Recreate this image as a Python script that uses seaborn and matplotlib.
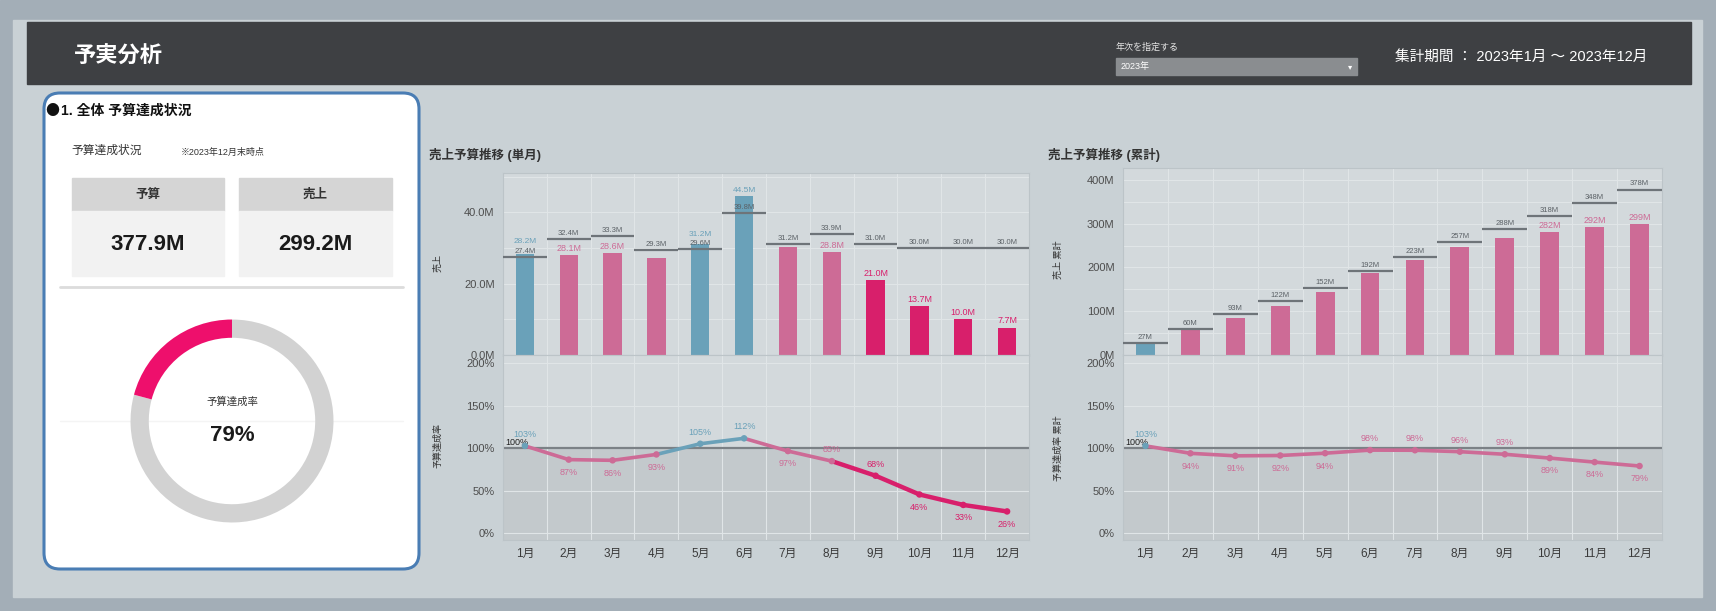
import numpy as np
import matplotlib
matplotlib.use("Agg")
import matplotlib.pyplot as plt
from matplotlib.patches import Rectangle, FancyBboxPatch
import seaborn as sns

# ---- data -------------------------------------------------------------
months = ["1月", "2月", "3月", "4月", "5月", "6月",
          "7月", "8月", "9月", "10月", "11月", "12月"]
budget_m = [27.4, 32.4, 33.3, 29.3, 29.6, 39.8, 31.2, 33.9, 31.0, 30.0, 30.0, 30.0]
sales_m = [28.2, 28.1, 28.6, 27.2, 31.2, 44.5, 30.2, 28.8, 21.0, 13.7, 10.0, 7.7]

ticks_single = [0, 20, 40]
ticks_cum = [0, 100, 200, 300, 400]
ticks_pct = [0, 50, 100, 150, 200]

# where each achievement-rate label sits relative to its point
label_side_single = ["up", "down", "down", "down", "up", "up",
                     "down", "up", "up", "down", "down", "down"]
label_side_cum = ["up", "down", "down", "down", "down", "up",
                  "up", "up", "up", "down", "down", "down"]

# ---- derived series -----------------------------------------------------
budget_m = np.array(budget_m)
sales_m = np.array(sales_m)
budget_c = np.cumsum(budget_m)
sales_c = np.cumsum(sales_m)
rate_m = sales_m / budget_m * 100
rate_c = sales_c / budget_c * 100
total_budget = budget_m.sum()
total_sales = sales_m.sum()
total_rate = total_sales / total_budget * 100

# ---- style --------------------------------------------------------------
sns.set_theme(style="white")
plt.rcParams["font.family"] = ["Liberation Sans", "Noto Sans CJK JP", "DejaVu Sans"]

OUTER = "#a3aeb7"
PANEL = "#c9d1d5"
HEADER = "#3e4043"
PLOT = "#d3d9dc"
SHADE = "#c3c9cc"
GRID = "#e0e5e7"
BUDGET = "#6e7479"
BLUE = "#6aa1b9"
MUTED = "#cd6b96"
STRONG = "#d81f6b"
DONUT_GREY = "#d2d2d2"
DONUT_PINK = "#ee0f6c"
TXT = "#333333"


def status_color(r):
    if r >= 100:
        return BLUE
    return MUTED if r >= 75 else STRONG


W, H = 1716, 611
fig = plt.figure(figsize=(W / 100, H / 100), dpi=100)


def px_axes(x0, y0, x1, y1):
    return fig.add_axes([x0 / W, 1 - y1 / H, (x1 - x0) / W, (y1 - y0) / H])


# ---- page background, header, summary card ------------------------------
bg = px_axes(0, 0, W, H)
bg.set_xlim(0, W)
bg.set_ylim(H, 0)
bg.axis("off")
bg.add_patch(Rectangle((0, 0), W, H, color=OUTER))
bg.add_patch(Rectangle((13, 20), 1689, 577, color=PANEL))
bg.add_patch(Rectangle((27, 22), 1664, 62, color=HEADER))
bg.text(74, 57, "予実分析", color="white", fontsize=16, fontweight="bold",
        va="center", ha="left")
bg.text(1116, 47, "年次を指定する", color="#e6e6e6", fontsize=6.5,
        va="center", ha="left")
bg.add_patch(Rectangle((1116, 58), 241, 17, color="#8a8d90"))
bg.text(1121, 66.5, "2023年", color="white", fontsize=6.5, va="center", ha="left")
bg.text(1350, 66.5, "▾", color="white", fontsize=6, va="center", ha="center",
        family="DejaVu Sans")
bg.text(1395, 57, "集計期間 ： 2023年1月 ～ 2023年12月", color="white",
        fontsize=10.5, va="center", ha="left")

bg.add_patch(FancyBboxPatch((44, 93), 375, 476,
                            boxstyle="round,pad=0,rounding_size=16",
                            fc="white", ec="#4a7db4", lw=2.2))
bg.text(45, 111, "●", color="#111", fontsize=10, va="center", ha="left",
        family=["Noto Sans CJK JP"])
bg.text(61, 111, "1. 全体 予算達成状況", color="#111", fontsize=10,
        fontweight="bold", va="center", ha="left")
bg.text(71, 151, "予算達成状況", color=TXT, fontsize=8.5, va="center", ha="left")
bg.text(181, 152, "※2023年12月末時点", color=TXT, fontsize=6.5,
        va="center", ha="left")

kpis = [("予算", total_budget, 72, 224), ("売上", total_sales, 239, 392)]
for name, val, x0, x1 in kpis:
    bg.add_patch(Rectangle((x0, 178), x1 - x0, 33, color="#d5d5d5"))
    bg.add_patch(Rectangle((x0, 211), x1 - x0, 65, color="#f2f2f2"))
    cx = (x0 + x1) / 2
    bg.text(cx, 195, name, color=TXT, fontsize=9, fontweight="bold",
            va="center", ha="center")
    bg.text(cx, 244, f"{val:.1f}M", color="#1a1a1a", fontsize=16,
            fontweight="bold", va="center", ha="center")
bg.plot([60, 403], [287, 287], color="#dcdcdc", lw=2)
bg.plot([60, 403], [421, 421], color="#f4f4f4", lw=1)

# donut: achieved share in grey, remaining gap in pink
axd = px_axes(126, 315, 338, 527)
axd.pie([total_sales, total_budget - total_sales],
        colors=[DONUT_GREY, DONUT_PINK], startangle=90, counterclock=False,
        wedgeprops=dict(width=0.18, edgecolor="none"))
axd.set_xlim(-1.0445, 1.0445)
axd.set_ylim(-1.0445, 1.0445)
axd.text(0, 0.19, "予算達成率", color=TXT, fontsize=7.5, ha="center", va="center")
axd.text(0, -0.14, f"{total_rate:.0f}%", color="#1a1a1a", fontsize=16,
         fontweight="bold", ha="center", va="center")


# ---- chart helpers -------------------------------------------------------
def style_axes(ax):
    ax.set_facecolor(PLOT)
    for s in ax.spines.values():
        s.set_color("#bcc4c8")
        s.set_linewidth(0.8)
    ax.tick_params(length=0, labelsize=8, colors="#4d4d4d", pad=6)


def draw_bars(ax, budget, sales, rates, fmt, ylim, ticks, tick_fmt,
              stack_over, min_gap, minor_step):
    idx = np.arange(len(months))
    palette = {m: status_color(r) for m, r in zip(months, rates)}
    style_axes(ax)
    sns.barplot(x=months, y=sales, hue=months, palette=palette, legend=False,
                width=0.42, saturation=1, edgecolor="none", linewidth=0,
                ax=ax, zorder=2)
    ax.set_xlim(-0.5, len(months) - 0.5)
    ax.set_ylim(*ylim)
    ax.set_yticks(ticks)
    ax.set_yticklabels([tick_fmt(t) for t in ticks])
    ax.set_yticks(np.arange(ylim[0], ylim[1], minor_step), minor=True)
    ax.set_xticks(idx + 0.5, minor=True)
    ax.set_xticks([])
    ax.set_xlabel("")
    ax.set_ylabel("")
    ax.grid(which="minor", color=GRID, lw=0.8, zorder=0)
    ax.grid(which="major", axis="y", color=GRID, lw=0.8, zorder=0)
    ax.hlines(budget, idx - 0.5, idx + 0.5, color=BUDGET, lw=1.6, zorder=3)
    for i, (b, s, r) in enumerate(zip(budget, sales, rates)):
        ax.annotate(fmt(b), (i, b), xytext=(0, 1.5), textcoords="offset points",
                    ha="center", va="bottom", fontsize=5.5, color="#5b6166")
        col = status_color(r)
        if s >= b:
            if not stack_over:
                continue
            if s - b > min_gap:
                ax.annotate(fmt(s), (i, s), xytext=(0, 1.5),
                            textcoords="offset points", ha="center",
                            va="bottom", fontsize=6, color=col)
            else:
                ax.annotate(fmt(s), (i, b), xytext=(0, 8.5),
                            textcoords="offset points", ha="center",
                            va="bottom", fontsize=6, color=col)
        elif b - s > min_gap:
            ax.annotate(fmt(s), (i, s), xytext=(0, 1.5),
                        textcoords="offset points", ha="center", va="bottom",
                        fontsize=6.5, color=col)


def draw_rate(ax, rates, sides):
    idx = np.arange(len(months))
    cols = [status_color(r) for r in rates]
    style_axes(ax)
    ax.set_xlim(-0.5, len(months) - 0.5)
    ax.set_ylim(-8, 210)
    ax.axhspan(-8, 100, color=SHADE, zorder=0, lw=0)
    ax.set_yticks(ticks_pct)
    ax.set_yticklabels([f"{t}%" for t in ticks_pct])
    ax.set_xticks(idx)
    ax.set_xticklabels(months, fontsize=8.5, color="#3a3a3a")
    ax.set_xticks(idx + 0.5, minor=True)
    ax.grid(which="minor", axis="x", color=GRID, lw=0.8, zorder=0.5)
    ax.grid(which="major", axis="y", color=GRID, lw=0.8, zorder=0.5)
    ax.axhline(100, color="#7b8186", lw=1.6, zorder=1)
    for i in range(len(months) - 1):
        lw = 3.2 if cols[i + 1] == STRONG else 2.6
        ax.plot(idx[i:i + 2], rates[i:i + 2], color=cols[i + 1], lw=lw,
                solid_capstyle="round", zorder=3)
    sns.scatterplot(x=idx, y=rates, hue=idx, palette=cols, legend=False,
                    s=22, edgecolor="none", ax=ax, zorder=4)
    ax.set_xlabel("")
    ax.set_ylabel("")
    ax.annotate("100%", (-0.45, 100), xytext=(0, 1), textcoords="offset points",
                ha="left", va="bottom", fontsize=6.5, color="#222")
    for i, (r, side) in enumerate(zip(rates, sides)):
        dy = 5 if side == "up" else -6
        ax.annotate(f"{r:.0f}%", (i, r), xytext=(0, dy),
                    textcoords="offset points", ha="center",
                    va="bottom" if side == "up" else "top",
                    fontsize=6.5, color=cols[i])


# ---- monthly chart -------------------------------------------------------
bg.text(429, 155, "売上予算推移 (単月)", color=TXT, fontsize=9,
        fontweight="bold", va="center", ha="left")
ax1 = px_axes(503, 173, 1029, 355)
draw_bars(ax1, budget_m, sales_m, rate_m, lambda v: f"{v:.1f}M", (0, 51),
          ticks_single, lambda t: f"{t:.1f}M", True, 3.0, 10)
ax2 = px_axes(503, 355, 1029, 540)
draw_rate(ax2, rate_m, label_side_single)
bg.text(438, 263, "売上", rotation=90, fontsize=6.5, color=TXT,
        va="center", ha="center")
bg.text(438, 445, "予算達成率", rotation=90, fontsize=6.5, color=TXT,
        va="center", ha="center")

# ---- cumulative chart ----------------------------------------------------
bg.text(1048, 155, "売上予算推移 (累計)", color=TXT, fontsize=9,
        fontweight="bold", va="center", ha="left")
ax3 = px_axes(1123, 168, 1662, 355)
draw_bars(ax3, budget_c, sales_c, rate_c, lambda v: f"{v:.0f}M", (0, 427),
          ticks_cum, lambda t: f"{t:d}M", False, 25, 50)
ax4 = px_axes(1123, 355, 1662, 540)
draw_rate(ax4, rate_c, label_side_cum)
bg.text(1058, 260, "売上 累計", rotation=90, fontsize=6.5, color=TXT,
        va="center", ha="center")
bg.text(1058, 448, "予算達成率 累計", rotation=90, fontsize=6.5, color=TXT,
        va="center", ha="center")

fig.savefig("out.png", dpi=100)
